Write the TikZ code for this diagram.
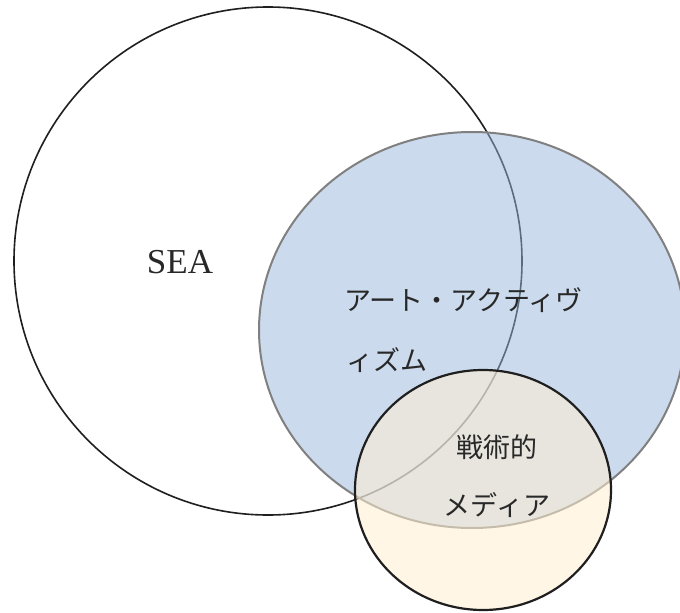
\documentclass[tikz,border=0pt]{standalone}
\usepackage{fontspec}
\setmainfont{Liberation Serif}
\newfontfamily\jp{Noto Sans CJK JP}
\definecolor{blueC}{RGB}{153,185,221}
\definecolor{yelC}{RGB}{255,239,209}
\definecolor{txtC}{RGB}{40,40,40}
\begin{document}
\begin{tikzpicture}[x=1pt,y=-1pt,
  sealine/.style={draw=black!88, line width=1.6pt},
  bluearea/.style={fill=blueC, fill opacity=0.5, draw=black!50, draw opacity=1, line width=2pt},
  yelarea/.style={fill=yelC, fill opacity=0.55, draw=black!88, draw opacity=1, line width=2.2pt},
  lbl/.style={text=txtC, inner sep=0pt},
  jplbl/.style={lbl, font=\jp\fontsize{27}{27}\selectfont, anchor=west},
  jpctr/.style={lbl, font=\jp\fontsize{27}{27}\selectfont}]
\useasboundingbox (0,0) rectangle (680,613);
\fill[white] (0,0) rectangle (680,613);
\path[sealine] (268,261) circle[radius=254];
\path[bluearea] (472,330) ellipse[x radius=213, y radius=198];
\path[yelarea] (483,490) ellipse[x radius=128, y radius=120];
\node[lbl, font=\fontsize{35}{35}\selectfont] (sea) at (180,262) {SEA};
\node[jplbl] (art1) at (344,300) {アート・アクティヴ};
\node[jplbl] (art2) at (346,360) {ィズム};
\node[jpctr] (tac1) at (497,447) {戦術的};
\node[jpctr] (tac2) at (497,505) {メディア};
\end{tikzpicture}
\end{document}
